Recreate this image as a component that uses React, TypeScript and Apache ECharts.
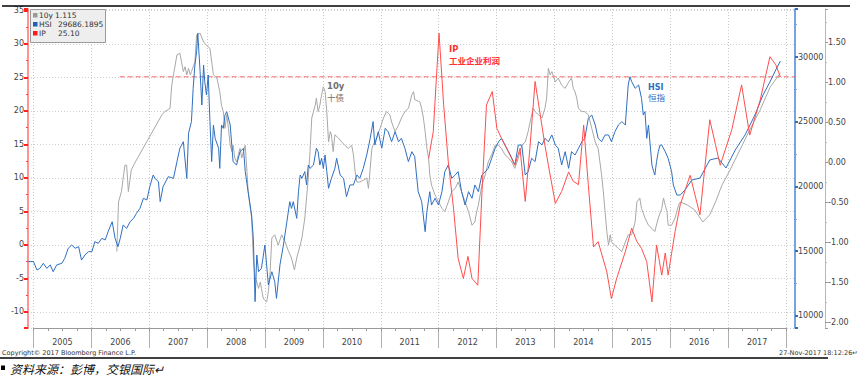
import React, { useEffect, useRef } from "react";
import * as echarts from "echarts";

const years = ["2005","2006","2007","2008","2009","2010","2011","2012","2013","2014","2015","2016","2017"];

const hsiData: [number, number][] = [
[2004.91,14200],[2005.00,14200],[2005.06,13550],[2005.11,13680],[2005.17,14070],[2005.23,13680],[2005.29,13940],[2005.34,13420],[2005.40,13940],[2005.49,14070],[2005.54,14450],[2005.60,15230],[2005.66,15480],[2005.72,15230],[2005.78,15350],[2005.83,14320],[2005.89,14710],[2005.95,14970],[2006.01,14970],[2006.06,15740],[2006.12,15610],[2006.18,16000],[2006.24,15870],[2006.29,16510],[2006.36,17280],[2006.41,16000],[2006.46,15350],[2006.50,16000],[2006.55,17030],[2006.61,16770],[2006.67,17280],[2006.73,17540],[2006.78,17930],[2006.84,18310],[2006.90,19090],[2006.96,18960],[2007.01,19990],[2007.07,20890],[2007.10,20630],[2007.16,20370],[2007.19,18830],[2007.24,19990],[2007.33,20760],[2007.42,20630],[2007.48,21920],[2007.53,22950],[2007.59,23460],[2007.65,20630],[2007.68,24110],[2007.73,25010],[2007.76,27580],[2007.79,29380],[2007.82,30410],[2007.84,31830],[2007.88,28870],[2007.91,26290],[2007.94,29380],[2007.96,28100],[2007.99,27070],[2008.02,28610],[2008.05,25010],[2008.08,21920],[2008.11,24750],[2008.14,23720],[2008.20,22950],[2008.22,21400],[2008.25,24750],[2008.28,24490],[2008.31,25520],[2008.34,25780],[2008.40,24750],[2008.45,21920],[2008.51,21660],[2008.57,22690],[2008.63,22950],[2008.66,21150],[2008.71,19600],[2008.77,17800],[2008.80,16000],[2008.83,11110],[2008.86,14710],[2008.89,13420],[2008.94,13680],[2009.00,15480],[2009.06,12390],[2009.12,13420],[2009.17,12650],[2009.20,11360],[2009.26,13940],[2009.32,15480],[2009.38,17280],[2009.43,18830],[2009.46,18310],[2009.49,18830],[2009.55,17540],[2009.58,19600],[2009.61,20890],[2009.64,20630],[2009.69,21150],[2009.72,20120],[2009.75,21660],[2009.78,21400],[2009.84,21660],[2009.89,22950],[2009.92,22690],[2009.95,21660],[2009.98,22180],[2010.01,21400],[2010.04,22430],[2010.07,21150],[2010.10,19860],[2010.15,20630],[2010.21,21400],[2010.24,22180],[2010.30,20890],[2010.36,20630],[2010.41,19210],[2010.47,20120],[2010.53,20120],[2010.59,20890],[2010.64,20630],[2010.70,21400],[2010.76,22430],[2010.82,23720],[2010.87,25010],[2010.90,23200],[2010.96,24230],[2011.02,22950],[2011.08,24490],[2011.13,24230],[2011.19,23460],[2011.25,24230],[2011.31,23460],[2011.36,23720],[2011.42,22950],[2011.48,21920],[2011.54,22690],[2011.59,22300],[2011.62,20890],[2011.65,19600],[2011.71,18830],[2011.77,16510],[2011.80,18060],[2011.85,19600],[2011.88,18570],[2011.94,19090],[2012.00,18570],[2012.06,19600],[2012.11,21150],[2012.17,21660],[2012.23,20630],[2012.29,20890],[2012.34,21150],[2012.40,19600],[2012.46,18570],[2012.52,19600],[2012.58,19090],[2012.63,20120],[2012.69,19600],[2012.75,20890],[2012.81,21150],[2012.86,21400],[2012.92,22180],[2012.98,22950],[2013.04,23460],[2013.09,23720],[2013.15,23200],[2013.21,22690],[2013.27,22180],[2013.32,21660],[2013.38,23200],[2013.44,23200],[2013.50,20890],[2013.55,21150],[2013.61,22180],[2013.67,21920],[2013.73,23460],[2013.79,23200],[2013.84,23720],[2013.90,23460],[2013.96,23980],[2014.02,23200],[2014.07,22950],[2014.13,21660],[2014.19,22690],[2014.25,21400],[2014.30,22690],[2014.36,22430],[2014.42,22950],[2014.48,23460],[2014.53,23720],[2014.59,25260],[2014.65,25520],[2014.71,24750],[2014.76,23720],[2014.82,23460],[2014.88,23980],[2014.94,23980],[2014.99,23460],[2015.05,24230],[2015.11,24750],[2015.17,25010],[2015.23,24750],[2015.28,27840],[2015.31,28480],[2015.34,28100],[2015.40,27580],[2015.46,27840],[2015.51,26810],[2015.54,25520],[2015.57,25780],[2015.60,23720],[2015.63,24750],[2015.66,23200],[2015.69,21660],[2015.72,21150],[2015.74,20890],[2015.77,21920],[2015.80,22690],[2015.83,23200],[2015.86,23200],[2015.92,22690],[2015.97,22180],[2016.03,21150],[2016.06,20120],[2016.12,19340],[2016.18,19340],[2016.26,19730],[2016.38,20500],[2016.52,20650],[2016.69,22050],[2016.83,22200],[2016.97,21430],[2017.13,22820],[2017.30,23980],[2017.47,25520],[2017.61,27070],[2017.73,28070],[2017.83,29000],[2017.91,29686]
];

const tenYData: [number, number][] = [
[2006.44,-1.12],[2006.47,-0.50],[2006.52,-0.37],[2006.58,-0.04],[2006.61,-0.04],[2006.64,-0.37],[2006.69,-0.10],[2006.76,0.00],[2007.22,0.59],[2007.27,0.63],[2007.36,0.67],[2007.39,0.96],[2007.42,1.09],[2007.48,1.34],[2007.53,1.36],[2007.59,1.13],[2007.62,1.19],[2007.65,1.09],[2007.68,1.17],[2007.71,1.09],[2007.73,1.13],[2007.79,1.25],[2007.82,1.59],[2007.88,1.61],[2007.94,1.50],[2007.99,1.46],[2008.05,1.42],[2008.11,1.09],[2008.17,1.05],[2008.22,0.88],[2008.25,0.71],[2008.28,0.63],[2008.31,0.42],[2008.34,0.59],[2008.37,0.42],[2008.40,0.21],[2008.43,0.13],[2008.45,0.21],[2008.48,0.05],[2008.51,0.00],[2008.54,0.09],[2008.57,0.17],[2008.60,0.05],[2008.66,0.21],[2008.69,-0.12],[2008.71,-0.37],[2008.77,-0.70],[2008.80,-1.20],[2008.83,-1.45],[2008.86,-1.50],[2008.89,-1.58],[2008.92,-1.50],[2008.94,-1.58],[2008.97,-1.70],[2009.00,-1.73],[2009.03,-1.75],[2009.06,-1.62],[2009.09,-1.37],[2009.12,-0.95],[2009.17,-0.91],[2009.23,-1.04],[2009.29,-0.91],[2009.35,-1.00],[2009.41,-1.12],[2009.46,-1.20],[2009.51,-1.35],[2009.55,-1.20],[2009.61,-1.04],[2009.64,-0.95],[2009.69,-0.70],[2009.75,-0.20],[2009.78,0.13],[2009.81,0.55],[2009.87,0.71],[2009.89,0.80],[2009.92,0.63],[2009.95,0.71],[2009.98,0.84],[2010.01,0.94],[2010.04,0.88],[2010.07,0.63],[2010.10,0.25],[2010.13,0.38],[2010.15,0.34],[2010.18,0.13],[2010.21,0.34],[2010.27,0.30],[2010.33,0.25],[2010.38,0.21],[2010.44,0.17],[2010.50,0.21],[2010.53,0.09],[2010.56,-0.12],[2010.59,-0.25],[2010.64,-0.25],[2010.70,-0.23],[2010.76,-0.20],[2010.79,-0.33],[2010.82,-0.08],[2010.85,0.17],[2010.87,0.21],[2010.93,0.30],[2010.99,0.42],[2011.05,0.55],[2011.10,0.63],[2011.16,0.59],[2011.19,0.50],[2011.25,0.38],[2011.31,0.46],[2011.36,0.55],[2011.42,0.63],[2011.48,0.67],[2011.54,0.84],[2011.57,0.88],[2011.59,0.78],[2011.65,0.76],[2011.68,0.75],[2011.71,0.67],[2011.74,0.55],[2011.77,0.38],[2011.80,0.17],[2011.83,0.05],[2011.85,-0.16],[2011.88,-0.29],[2011.94,-0.41],[2012.00,-0.50],[2012.06,-0.58],[2012.11,-0.62],[2012.17,-0.50],[2012.23,-0.37],[2012.29,-0.33],[2012.34,-0.25],[2012.40,-0.37],[2012.46,-0.50],[2012.52,-0.62],[2012.58,-0.79],[2012.63,-0.75],[2012.66,-0.62],[2012.69,-0.54],[2012.75,-0.29],[2012.81,-0.16],[2012.86,0.00],[2012.92,0.09],[2012.98,0.21],[2013.04,0.21],[2013.09,0.17],[2013.15,0.09],[2013.21,0.05],[2013.27,0.00],[2013.32,-0.08],[2013.38,0.05],[2013.44,0.21],[2013.50,0.25],[2013.55,0.38],[2013.61,0.59],[2013.64,0.67],[2013.67,0.63],[2013.73,0.59],[2013.79,0.55],[2013.84,0.67],[2013.87,0.80],[2013.90,1.17],[2013.93,1.09],[2013.96,1.13],[2014.02,1.00],[2014.07,1.05],[2014.13,0.96],[2014.19,0.92],[2014.25,1.00],[2014.30,1.05],[2014.33,0.92],[2014.36,0.88],[2014.39,0.80],[2014.42,0.67],[2014.48,0.63],[2014.53,0.63],[2014.59,0.59],[2014.65,0.42],[2014.71,0.25],[2014.76,0.17],[2014.82,-0.16],[2014.85,-0.37],[2014.88,-0.62],[2014.91,-0.87],[2014.94,-1.04],[2014.97,-0.91],[2014.99,-1.00],[2015.05,-1.04],[2015.11,-1.08],[2015.17,-1.12],[2015.23,-1.00],[2015.28,-0.91],[2015.34,-0.91],[2015.40,-0.75],[2015.43,-0.50],[2015.48,-0.45],[2015.51,-0.58],[2015.57,-0.70],[2015.63,-0.79],[2015.69,-0.83],[2015.74,-0.87],[2015.80,-0.70],[2015.86,-0.58],[2015.89,-0.45],[2015.92,-0.54],[2015.95,-0.62],[2015.97,-0.79],[2016.03,-0.79],[2016.09,-0.70],[2016.15,-0.54],[2016.18,-0.50],[2016.31,-0.54],[2016.43,-0.60],[2016.57,-0.75],[2016.69,-0.66],[2016.80,-0.48],[2016.90,-0.29],[2017.04,-0.10],[2017.21,0.15],[2017.38,0.40],[2017.56,0.65],[2017.73,0.93],[2017.91,1.115]
];

const ipData: [number, number][] = [
[2011.83,12.9],[2011.91,16.9],[2012.01,31.6],[2012.09,20.9],[2012.17,12.4],[2012.26,5.5],[2012.34,-2.0],[2012.43,-5.0],[2012.51,-1.7],[2012.58,-5.0],[2012.68,-6.0],[2012.75,7.5],[2012.83,20.9],[2012.93,22.9],[2013.01,17.4],[2013.09,15.9],[2013.21,13.9],[2013.32,11.9],[2013.41,14.4],[2013.50,6.5],[2013.58,14.4],[2013.67,24.4],[2013.76,19.4],[2013.84,14.9],[2013.90,11.9],[2014.02,6.2],[2014.13,8.0],[2014.25,10.9],[2014.33,9.5],[2014.42,9.0],[2014.51,17.9],[2014.59,9.0],[2014.68,-0.3],[2014.76,0.5],[2014.91,-4.0],[2014.99,-8.0],[2015.08,-5.0],[2015.23,-1.0],[2015.34,2.5],[2015.43,0.5],[2015.51,-0.5],[2015.60,-2.5],[2015.69,-8.5],[2015.77,0.0],[2015.86,-4.5],[2015.92,-1.2],[2015.97,-4.5],[2016.09,2.0],[2016.18,6.0],[2016.35,10.4],[2016.52,4.5],[2016.69,18.7],[2016.87,11.9],[2017.07,17.2],[2017.24,23.9],[2017.38,16.4],[2017.56,21.6],[2017.73,28.1],[2017.83,26.9],[2017.91,25.1]
];

const ipLast = 25.1;
const ipLastLineSpan: [number, number] = [2006.49, 2018.163];
const legendItems = [
  { name: "10y", value: "1.115", color: "#9a9a9a" },
  { name: "HSI", value: "29686.1895", color: "#1f5fb4" },
  { name: "IP", value: "25.10", color: "#ff1a1a" },
];

const C_GRAY = "#a8a8a8";
const C_BLUE = "#2f6fc0";
const C_RED = "#ff4d4d";
const C_DASH = "#f56a6a";
const FONT = "DejaVu Sans";

export default function App() {
  const ref = useRef<HTMLDivElement>(null);
  useEffect(() => {
    if (!ref.current) return;
    const chart = echarts.init(ref.current, null, { renderer: "svg" });
    const axisLabelBase = { color: "#444", fontSize: 8, fontFamily: FONT };
    const option: any = {
      animation: false,
      backgroundColor: "#ffffff",
      grid: [
        { left: 28, right: 63, top: 9, bottom: 48, containLabel: false },
        { left: 33.5, right: 72, top: 9, bottom: 48, containLabel: false },
      ],
      xAxis: [
        { type: "value", gridIndex: 0, min: 2004.905, max: 2018.163, show: false },
        {
          type: "category", gridIndex: 1, data: years, boundaryGap: true, position: "bottom",
          axisLine: { show: true, lineStyle: { color: "#9a9a9a", width: 1 } },
          axisTick: { show: true, length: 20, lineStyle: { color: "#b0b0b0" } },
          axisLabel: { ...axisLabelBase, margin: 10 },
          splitLine: { show: true, lineStyle: { color: "#c8c8c8", type: [1, 2] } },
        },
        {
          type: "value", gridIndex: 1, min: 0, max: 52, interval: 1, position: "bottom",
          axisLine: { show: false }, axisLabel: { show: false }, splitLine: { show: false },
          axisTick: { show: true, length: 3, lineStyle: { color: "#9a9a9a" } },
        },
      ],
      yAxis: [
        {
          type: "value", gridIndex: 0, position: "left", min: -12.39, max: 35.22, splitNumber: 10,
          axisLine: { show: true, lineStyle: { color: "#ff7070", width: 1.5 } },
          axisTick: { show: true, length: 4, lineStyle: { color: "#ff2020", width: 2 } },
          minorTick: { show: true, splitNumber: 2, length: 2, lineStyle: { color: "#ff4040" } },
          axisLabel: { ...axisLabelBase, margin: 4, showMinLabel: false, showMaxLabel: false },
          splitLine: { show: true, lineStyle: { color: "#cfcfcf", type: [1, 2] } },
        },
        {
          type: "value", gridIndex: 0, position: "right", min: 9073, max: 33707, splitNumber: 5,
          axisLine: { show: true, lineStyle: { color: "#4a86d0", width: 1.5 } },
          axisTick: { show: true, length: 3, lineStyle: { color: "#2f6fc0", width: 2 } },
          minorTick: { show: true, splitNumber: 2, length: 2, lineStyle: { color: "#7aa6dd" } },
          axisLabel: { ...axisLabelBase, margin: 3, showMinLabel: false, showMaxLabel: false,
            formatter: (v: number) => String(Math.round(v)) },
          splitLine: { show: false },
        },
        {
          type: "value", gridIndex: 0, position: "right", offset: 30, min: -2.075, max: 1.9125, splitNumber: 8,
          axisLine: { show: true, lineStyle: { color: "#b8b8b8", width: 1 } },
          axisTick: { show: true, length: 3, lineStyle: { color: "#999", width: 1 } },
          minorTick: { show: true, splitNumber: 2, length: 2, lineStyle: { color: "#bbb" } },
          axisLabel: { ...axisLabelBase, margin: 3, showMinLabel: false, showMaxLabel: false,
            formatter: (v: number) => v.toFixed(2) },
          splitLine: { show: false },
        },
        { type: "value", gridIndex: 1, show: false, min: 0, max: 1 },
      ],
      series: [
        {
          name: "IP last", type: "line", xAxisIndex: 0, yAxisIndex: 0, color: C_DASH,
          data: ipLastLineSpan.map((t) => [t, ipLast]),
          showSymbol: false, symbol: "none", silent: true,
          lineStyle: { color: C_DASH, width: 1, type: [5, 3] }, z: 1,
        },
        {
          name: "10y", type: "line", xAxisIndex: 0, yAxisIndex: 2, data: tenYData, color: C_GRAY,
          showSymbol: false, symbol: "none", lineStyle: { color: C_GRAY, width: 1 }, z: 2,
        },
        {
          name: "HSI", type: "line", xAxisIndex: 0, yAxisIndex: 1, data: hsiData, color: C_BLUE,
          showSymbol: false, symbol: "none", lineStyle: { color: C_BLUE, width: 1 }, z: 3,
        },
        {
          name: "IP", type: "line", xAxisIndex: 0, yAxisIndex: 0, data: ipData, color: C_RED,
          showSymbol: false, symbol: "none", lineStyle: { color: C_RED, width: 1 }, z: 4,
        },
      ],
      graphic: [
        { type: "line", shape: { x1: 2, y1: 6, x2: 850, y2: 6 }, style: { stroke: "#000", lineWidth: 1.5 }, z: 100 },
        { type: "line", shape: { x1: 0, y1: 358, x2: 828, y2: 358 }, style: { stroke: "#000", lineWidth: 1.5 }, z: 100 },
        { type: "rect", shape: { x: 30.5, y: 9.5, width: 75, height: 33 },
          style: { fill: "#eeeeee", stroke: "#9a9a9a", lineWidth: 1 }, z: 100 },
        ...legendItems.flatMap((it, i) => [
          { type: "rect", shape: { x: 33, y: 13 + i * 9, width: 4.5, height: 4.5 }, style: { fill: it.color }, z: 101 },
          { type: "text", x: 39, y: 15.5 + i * 9, z: 101,
            style: { text: it.name, fill: "#333", font: `7.5px "${FONT}"`, verticalAlign: "middle" } },
          { type: "text", x: i === 0 ? 55 : 58, y: 15.5 + i * 9, z: 101,
            style: { text: it.value, fill: "#333", font: `7.5px "${FONT}"`, verticalAlign: "middle" } },
        ]),
        { type: "text", x: 327, y: 86, z: 100, style: { text: "10y", fill: "#707070", font: `bold 8.5px "${FONT}"`, verticalAlign: "middle" } },
        { type: "text", x: 327, y: 96.5, z: 100, style: { text: "十债", fill: "#707070", font: `8.5px "Noto Sans CJK SC"`, verticalAlign: "middle" } },
        { type: "text", x: 449, y: 48.5, z: 100, style: { text: "IP", fill: "#ff3030", font: `bold 8.5px "${FONT}"`, verticalAlign: "middle" } },
        { type: "text", x: 449, y: 59.5, z: 100, style: { text: "工业企业利润", fill: "#ff3030", font: `bold 8.5px "Noto Sans CJK SC"`, verticalAlign: "middle" } },
        { type: "text", x: 648, y: 87, z: 100, style: { text: "HSI", fill: "#2f6fc0", font: `bold 8px "${FONT}"`, verticalAlign: "middle" } },
        { type: "text", x: 648, y: 97, z: 100, style: { text: "恒指", fill: "#2f6fc0", font: `8.5px "Noto Sans CJK SC"`, verticalAlign: "middle" } },
        { type: "text", x: 2, y: 353, z: 100, style: { text: "Copyright© 2017 Bloomberg Finance L.P.", fill: "#333", font: `6.5px "${FONT}"`, verticalAlign: "middle" } },
        { type: "text", x: 779, y: 353, z: 100, style: { text: "27-Nov-2017 18:12:26↵", fill: "#333", font: `6.5px "${FONT}"`, verticalAlign: "middle" } },
        { type: "rect", shape: { x: 1, y: 365.5, width: 4, height: 4.5 }, style: { fill: "#000" }, z: 100 },
        { type: "text", x: 10, y: 368, z: 100, style: { text: "资料来源：彭博，交银国际↵", fill: "#111", font: `italic 12px "Noto Sans CJK SC"`, verticalAlign: "middle" } },
      ],
    };
    chart.setOption(option);
    return () => chart.dispose();
  }, []);
  return (
    <div
      ref={ref}
      style={{ position: "fixed", left: 0, top: 0, width: 858, height: 376, background: "#fff" }}
    />
  );
}
